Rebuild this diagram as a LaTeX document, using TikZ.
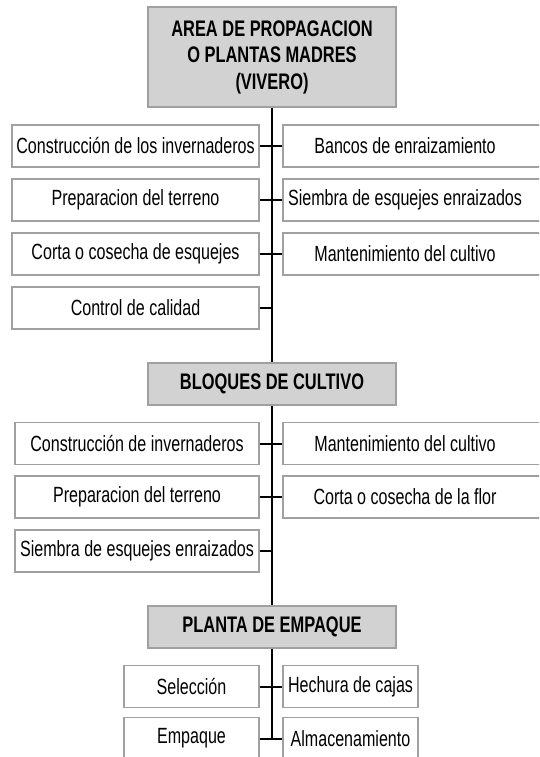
\documentclass[tikz,border=0pt]{standalone}
\usepackage{fontspec}
\setmainfont[FakeStretch=0.73]{Liberation Sans}
\usepackage{tikz}
\usepackage{xcolor}
\definecolor{boxgray}{RGB}{160,160,160}
\definecolor{maingray}{RGB}{210,210,210}

\begin{document}
\begin{tikzpicture}[x=1pt,y=-1pt]
        \tikzstyle{box}=[rectangle,draw=boxgray,fill=white,line width=1.5pt,
        inner sep=0pt,minimum height=42pt,font=\fontsize{22}{26}\selectfont]
        \tikzstyle{mainbox}=[box,fill=maingray,align=center,minimum width=248pt,
        font=\fontsize{22.5}{26.5}\selectfont\bfseries]
        \tikzstyle{rbox}=[box,minimum width=280pt,execute at begin node={\hspace*{-36pt}}]
        \tikzstyle{link}=[line width=2pt,black]
        \clip (0,0) rectangle (539,757);
        % vivero
        \node at (272,57) [mainbox,minimum height=100pt] (vivero) {AREA DE PROPAGACION\\O PLANTAS MADRES\\(VIVERO)};
        \node at (135.5,146) [box,minimum width=247pt] (inv1) {Construcción de los invernaderos};
        \node at (135.5,200) [box,minimum width=247pt] (ter1) {Preparacion del terreno};
        \node at (135.5,254) [box,minimum width=247pt] (cor1) {Corta o cosecha de esquejes};
        \node at (135.5,308) [box,minimum width=247pt] (cal1) {Control de calidad};
        \node at (423,146) [rbox] (ban1) {Bancos de enraizamiento};
        \node at (423,200) [rbox] (sie1) {Siembra de esquejes enraizados};
        \node at (423,254) [rbox] (man1) {Mantenimiento del cultivo};
        % bloques
        \node at (272,384) [mainbox,minimum height=42pt] (bloques) {BLOQUES DE CULTIVO};
        \node at (137,443.5) [box,minimum width=244pt] (inv2) {Construcción de invernaderos};
        \node at (137,497) [box,minimum width=244pt] (ter2) {Preparacion del terreno};
        \node at (137,551) [box,minimum width=244pt] (sie2) {Siembra de esquejes enraizados};
        \node at (423,443.5) [rbox] (man2) {Mantenimiento del cultivo};
        \node at (423,497) [rbox] (cor2) {Corta o cosecha de la flor};
        % empaque
        \node at (272,627) [mainbox,minimum height=42pt] (empaque) {PLANTA DE EMPAQUE};
        \node at (191.5,686.5) [box,minimum width=135pt] (sel3) {Selección};
        \node at (191.5,738.5) [box,minimum width=135pt] (emp3) {Empaque};
        \node at (350.5,686.5) [box,minimum width=135pt] (caj3) {Hechura de cajas};
        \node at (350.5,738.5) [box,minimum width=135pt] (alm3) {Almacenamiento};
        % lineas
        \draw[link] (vivero.south) -- (bloques.north);
        \draw[link] (bloques.south) -- (empaque.north);
        \draw[link] (empaque.south) -- (empaque.south |- emp3.east);
        \draw[link] (inv1.east) -- (ban1.west);
        \draw[link] (ter1.east) -- (sie1.west);
        \draw[link] (cor1.east) -- (man1.west);
        \draw[link] (cal1.east) -- (cal1.east -| vivero.south);
        \draw[link] (inv2.east) -- (man2.west);
        \draw[link] (ter2.east) -- (cor2.west);
        \draw[link] (sie2.east) -- (sie2.east -| bloques.south);
        \draw[link] (sel3.east) -- (caj3.west);
        \draw[link] (emp3.east) -- (alm3.west);
        %\draw[link] (vivero.south) -- (empaque.south);
      \end{tikzpicture}
\end{document}
